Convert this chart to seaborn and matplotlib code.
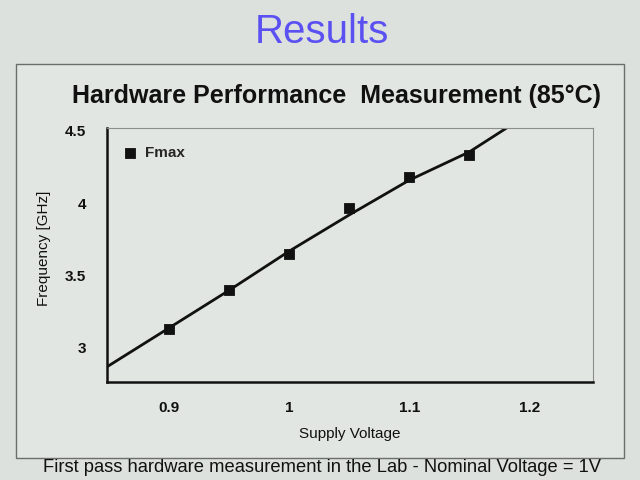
import numpy as np
import pandas as pd
import matplotlib
matplotlib.use("Agg")
import matplotlib.pyplot as plt
import seaborn as sns
from matplotlib.patches import Rectangle

# Messpunkte (Fmax)
voltage = [0.90, 0.95, 1.00, 1.05, 1.10, 1.15]
fmax = [3.13, 3.40, 3.65, 3.97, 4.18, 4.33]

trend_v = [0.848, 0.90, 0.95, 1.00, 1.05, 1.10, 1.15, 1.181]
trend_f = [2.87, 3.14, 3.40, 3.67, 3.92, 4.16, 4.355, 4.52]

x_ticks = [0.9, 1.0, 1.1, 1.2]
x_tick_labels = ["0.9", "1", "1.1", "1.2"]
y_ticks = [3.0, 3.5, 4.0, 4.5]
y_tick_labels = ["3", "3.5", "4", "4.5"]

df_pts = pd.DataFrame({"Supply Voltage": voltage, "Fmax": fmax})
df_trend = pd.DataFrame({"v": trend_v, "f": trend_f})

sns.set_theme(style="white")
plt.rcParams["font.family"] = ["Liberation Sans", "DejaVu Sans"]

slide_bg = "#dce1dd"
fig = plt.figure(figsize=(6.4, 4.8), dpi=100, facecolor=slide_bg)

# Rahmen um das Diagramm (hinter den Achsen)
fig.patches.append(Rectangle((16 / 640, 1 - 458 / 480), 608 / 640, 394 / 480,
                             transform=fig.transFigure, facecolor="#e2e6e3",
                             edgecolor="#6a6e6c", linewidth=1.0, zorder=-1))

fig.text(0.503, 1 - 32 / 480, "Results", ha="center", va="center",
         fontsize=29, color="#5b50f2")
fig.text(0.525, 1 - 96 / 480, "Hardware Performance  Measurement (85°C)",
         ha="center", va="center", fontsize=18, fontweight="bold", color="#111111")
fig.text(0.503, 1 - 468 / 480,
         "First pass hardware measurement in the Lab - Nominal Voltage = 1V",
         ha="center", va="center", fontsize=13.2, color="#111111")

ax = fig.add_axes([107 / 640, 1 - 382 / 480, 486 / 640, 254 / 480])
ax.set_zorder(2)
ax.set_facecolor("#e2e6e3")

sns.lineplot(data=df_trend, x="v", y="f", ax=ax, color="#111111", linewidth=2, legend=False)
sns.scatterplot(data=df_pts, x="Supply Voltage", y="Fmax", ax=ax, marker="s", s=58,
                color="#111111", edgecolor="#111111", label="Fmax", zorder=3)

ax.set_xlim(0.848, 1.253)
ax.set_ylim(2.765, 4.52)
ax.set_xticks(x_ticks)
ax.set_xticklabels(x_tick_labels, fontweight="bold", fontsize=11)
ax.set_yticks(y_ticks)
ax.set_yticklabels(y_tick_labels, fontweight="bold", fontsize=11)
ax.tick_params(axis="x", length=0, pad=14, colors="#111111")
ax.tick_params(axis="y", length=0, pad=15, colors="#111111")
ax.set_xlabel("Supply Voltage", fontsize=11, labelpad=8, color="#111111")
ax.set_ylabel("Frequency [GHz]", fontsize=11, color="#111111")
ax.yaxis.set_label_coords(-0.115, 0.525)

for side in ["top", "right"]:
    ax.spines[side].set_color("#8a8e8c")
    ax.spines[side].set_linewidth(0.8)
for side in ["left", "bottom"]:
    ax.spines[side].set_color("#111111")
    ax.spines[side].set_linewidth(1.8)

ax.legend(loc="center left", bbox_to_anchor=(0.035, 0.90), frameon=False,
          prop={"weight": "bold", "size": 11}, handlelength=0.8, handletextpad=0.6,
          borderpad=0, borderaxespad=0, markerscale=1.0)

fig.savefig("out.png", dpi=100, facecolor=slide_bg)
